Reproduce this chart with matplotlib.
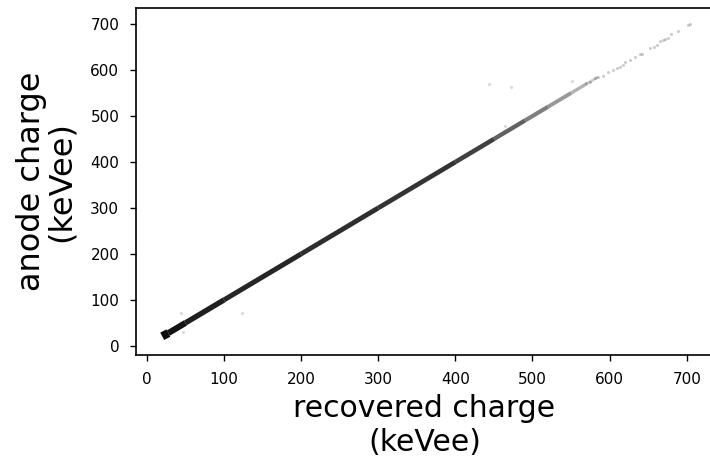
import matplotlib
matplotlib.use("Agg")
import matplotlib.pyplot as plt
from matplotlib.collections import LineCollection

# main band of events (recovered vs anode charge, keVee)
band_recovered = [20, 28, 50, 100, 200, 300, 400, 450, 490, 520, 550, 570, 585]
band_anode = [21, 28, 50, 100, 200, 300, 400, 450, 490, 520, 550, 570, 585]
band_width = [6.0, 4.4, 3.9, 3.6, 3.5, 3.4, 3.3, 3.1, 3.0, 2.8, 2.4, 2.0]
band_alpha = [0.95, 0.92, 0.88, 0.85, 0.82, 0.8, 0.75, 0.62, 0.5, 0.4, 0.3, 0.2]

# sparse high-energy tail
tail_recovered = [570, 574, 581, 585, 592, 598, 605, 609, 613, 618, 620, 626, 633, 639,
                  642, 653, 657, 661, 665, 669, 672, 676, 679, 689, 702, 704]
tail_anode = [571, 575, 582, 586, 587, 595, 600, 604, 607, 611, 618, 622, 629, 634,
              636, 647, 650, 654, 663, 665, 667, 670, 678, 685, 697, 700]

# stray events off the diagonal
stray_recovered = [45, 47, 123, 443, 472, 551, 464]
stray_anode = [72, 30, 72, 570, 563, 576, 478]

fig = plt.figure(figsize=(7.1, 4.65), dpi=100)
ax = fig.add_axes([0.1915, 0.2366, 0.8127, 0.7462])

segs = [[(band_recovered[i], band_anode[i]), (band_recovered[i + 1], band_anode[i + 1])]
        for i in range(len(band_recovered) - 1)]
lc = LineCollection(segs, linewidths=band_width,
                    colors=[(0, 0, 0, a) for a in band_alpha], capstyle="butt")
ax.add_collection(lc)

ax.scatter(tail_recovered, tail_anode, s=5, c="k", alpha=0.2, linewidths=0)
ax.scatter(stray_recovered, stray_anode, s=5, c="k", alpha=0.15, linewidths=0)

ax.set_xlim(-14, 734)
ax.set_ylim(-19.6, 735)
ax.set_xticks(range(0, 701, 100))
ax.set_yticks(range(0, 701, 100))
ax.tick_params(labelsize=11, length=4.5, width=1, pad=7.5)
for s in ax.spines.values():
    s.set_linewidth(1.2)

ax.set_xlabel("recovered charge\n(keVee)", fontsize=21.5, linespacing=1.2, labelpad=5.5)
ax.set_ylabel("anode charge\n(keVee)", fontsize=23, linespacing=0.97, labelpad=9.5)

fig.savefig("out.png", dpi=100)
